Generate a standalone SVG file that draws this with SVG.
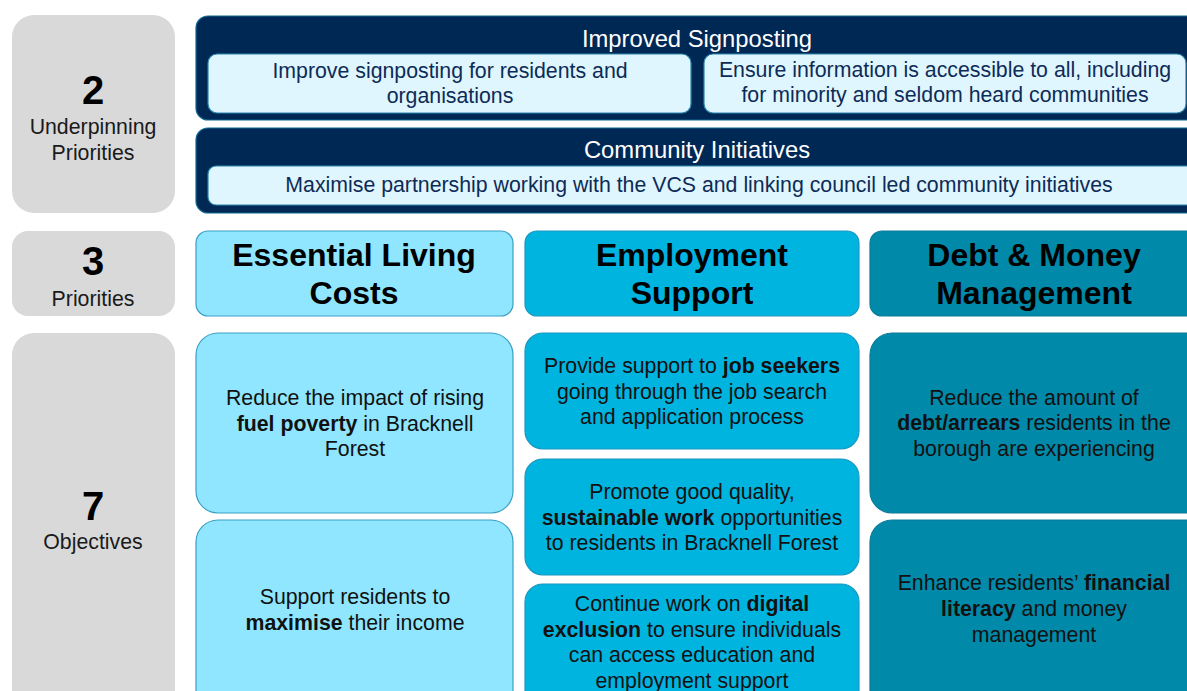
<svg xmlns="http://www.w3.org/2000/svg" width="1187" height="691" viewBox="0 0 1187 691">
<style>
text{font-family:"Liberation Sans",Arial,sans-serif;text-anchor:middle}
.gray{fill:#d9d9d9}
.navy{fill:#002855;stroke:#0f6a8f;stroke-width:1.2}
.inner{fill:#e0f6fe;stroke:#2a86ad;stroke-width:1.2}
.c1{fill:#8fe6fe;stroke:#3a9fc4;stroke-width:1.2}
.c2{fill:#00b4e0;stroke:#1a98c0;stroke-width:1.2}
.c3{fill:#0089a8;stroke:#0b7d9a;stroke-width:1.2}
.num{font-size:40px;font-weight:bold;fill:#000}
.lab{font-size:21.3px;fill:#1a1a1a}
.hd{font-size:23.8px;fill:#fff}
.it{font-size:21.3px;fill:#0d2b57}
.pt{font-size:32px;font-weight:bold;fill:#000}
.ob{font-size:21.3px;fill:#111}
.b{font-weight:bold}
</style>
<g id="label-underpinning">
<rect class="gray" x="12" y="15" width="163" height="198" rx="22"/>
<text class="num" x="93" y="104">2</text>
<text class="lab" x="93" y="134">Underpinning</text>
<text class="lab" x="93" y="160">Priorities</text>
</g>
<g id="label-priorities">
<rect class="gray" x="12" y="231" width="163" height="85" rx="16"/>
<text class="num" x="93" y="275">3</text>
<text class="lab" x="93" y="306">Priorities</text>
</g>
<g id="label-objectives">
<rect class="gray" x="12" y="333" width="163" height="380" rx="22"/>
<text class="num" x="93" y="520">7</text>
<text class="lab" x="93" y="549">Objectives</text>
</g>
<g id="improved-signposting">
<rect class="navy" x="196" y="16" width="1010" height="104" rx="12"/>
<text class="hd" x="697" y="47">Improved Signposting</text>
<rect class="inner" x="208" y="54" width="483" height="59" rx="9"/>
<text class="it" x="450" y="78">Improve signposting for residents and</text>
<text class="it" x="450" y="103">organisations</text>
<rect class="inner" x="704" y="54" width="482" height="59" rx="9"/>
<text class="it" x="945" y="77">Ensure information is accessible to all, including</text>
<text class="it" x="945" y="102">for minority and seldom heard communities</text>
</g>
<g id="community-initiatives">
<rect class="navy" x="196" y="128" width="1010" height="85" rx="12"/>
<text class="hd" x="697" y="158">Community Initiatives</text>
<rect class="inner" x="208" y="166" width="1000" height="39" rx="8"/>
<text class="it" x="699" y="192">Maximise partnership working with the VCS and linking council led community initiatives</text>
</g>
<g id="essential-living-costs">
<rect class="c1" x="196" y="231" width="317" height="85" rx="12"/>
<text class="pt" x="354" y="266">Essential Living</text>
<text class="pt" x="354" y="304">Costs</text>
</g>
<g id="employment-support">
<rect class="c2" x="525" y="231" width="334" height="85" rx="12"/>
<text class="pt" x="692" y="266">Employment</text>
<text class="pt" x="692" y="304">Support</text>
</g>
<g id="debt-money-management">
<rect class="c3" x="870" y="231" width="340" height="85" rx="12"/>
<text class="pt" x="1034" y="266">Debt &amp; Money</text>
<text class="pt" x="1034" y="304">Management</text>
</g>
<g id="obj-fuel-poverty">
<rect class="c1" x="196" y="333" width="317" height="180" rx="22"/>
<text class="ob" x="355" y="405">Reduce the impact of rising</text>
<text class="ob" x="355" y="431"><tspan class="b">fuel poverty</tspan> in Bracknell</text>
<text class="ob" x="355" y="456">Forest</text>
</g>
<g id="obj-maximise-income">
<rect class="c1" x="196" y="520" width="317" height="200" rx="22"/>
<text class="ob" x="355" y="604">Support residents to</text>
<text class="ob" x="355" y="630"><tspan class="b">maximise</tspan> their income</text>
</g>
<g id="obj-job-seekers">
<rect class="c2" x="525" y="333" width="334" height="116" rx="18"/>
<text class="ob" x="692" y="373">Provide support to <tspan class="b">job seekers</tspan></text>
<text class="ob" x="692" y="399">going through the job search</text>
<text class="ob" x="692" y="424">and application process</text>
</g>
<g id="obj-sustainable-work">
<rect class="c2" x="525" y="459" width="334" height="116" rx="18"/>
<text class="ob" x="692" y="499">Promote good quality,</text>
<text class="ob" x="692" y="525"><tspan class="b">sustainable work</tspan> opportunities</text>
<text class="ob" x="692" y="550">to residents in Bracknell Forest</text>
</g>
<g id="obj-digital-exclusion">
<rect class="c2" x="525" y="584" width="334" height="130" rx="18"/>
<text class="ob" x="692" y="611">Continue work on <tspan class="b">digital</tspan></text>
<text class="ob" x="692" y="637"><tspan class="b">exclusion</tspan> to ensure individuals</text>
<text class="ob" x="692" y="662">can access education and</text>
<text class="ob" x="692" y="688">employment support</text>
</g>
<g id="obj-debt-arrears">
<rect class="c3" x="870" y="333" width="340" height="180" rx="22"/>
<text class="ob" x="1034" y="405">Reduce the amount of</text>
<text class="ob" x="1034" y="430"><tspan class="b">debt/arrears</tspan> residents in the</text>
<text class="ob" x="1034" y="456">borough are experiencing</text>
</g>
<g id="obj-financial-literacy">
<rect class="c3" x="870" y="520" width="340" height="200" rx="22"/>
<text class="ob" x="1034" y="590">Enhance residents’ <tspan class="b">financial</tspan></text>
<text class="ob" x="1034" y="616"><tspan class="b">literacy</tspan> and money</text>
<text class="ob" x="1034" y="642">management</text>
</g>
<g id="connectors"></g>
</svg>
